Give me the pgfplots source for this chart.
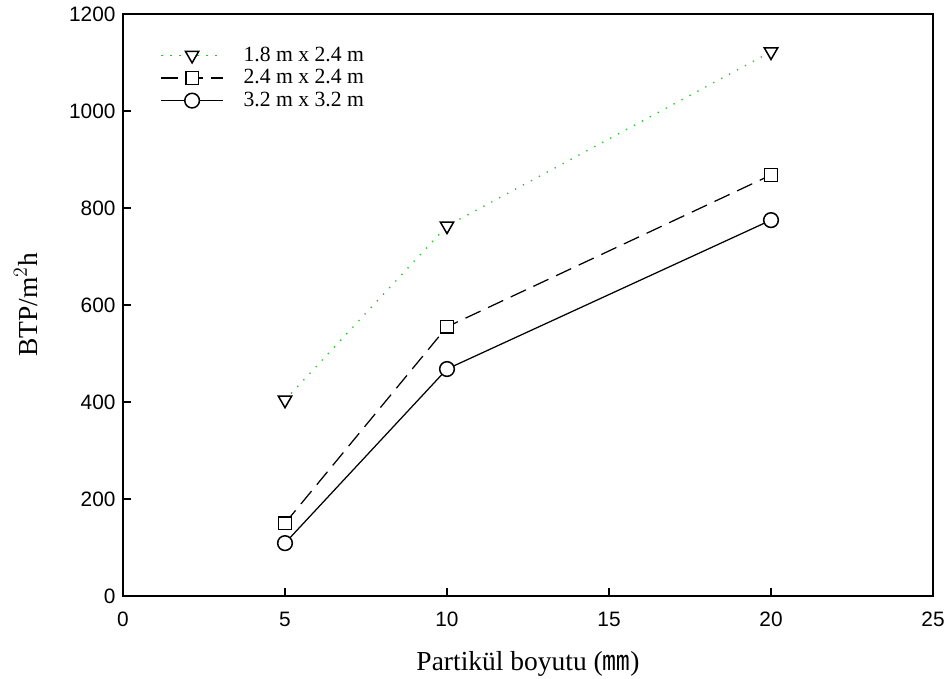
\documentclass[border=0pt]{standalone}
\usepackage{fontspec}
\setmainfont{Liberation Serif}
\newfontfamily\arialf{Liberation Sans}
\newfontfamily\cjk{Noto Sans CJK SC}
\usepackage{pgfplots}
\pgfplotsset{compat=1.18}
\definecolor{dotgreen}{RGB}{30,200,30}
\begin{document}
\begin{tikzpicture}
\begin{axis}[
  name=ax,
  scale only axis,
  width=486pt, height=349.2pt,
  xmin=0, xmax=25, ymin=0, ymax=1200,
  xtick={0,5,...,25}, ytick={0,200,...,1200},
  tick align=inside, major tick length=4.8pt,
  xtick pos=left, ytick pos=left,
  axis line style={line width=0.9pt},
  tick style={line width=0.8pt, black},
  /pgf/number format/assume math mode=true,
  ticklabel style={font=\arialf\fontsize{12.5}{14}\selectfont},
  yticklabel style={/pgf/number format/1000 sep={}, xshift=-1pt},
  xticklabel style={yshift=-6pt},
  xlabel={Partikül boyutu ({\cjk ㎜})},
  ylabel={BTP/m$^{2}$h},
  xlabel style={font=\fontsize{16.5}{18}\selectfont, yshift=-8pt},
  ylabel style={font=\fontsize{16.5}{18}\selectfont, yshift=12pt},
  legend style={draw=none, fill=none, at={(rel axis cs:0.046,0.950)}, anchor=north west,
    font=\fontsize{13}{15}\selectfont, row sep=-0.5pt, inner sep=0pt},
  legend cell align=left,
  legend image code/.code={
    \draw[#1, mark repeat=2, mark phase=2] plot coordinates {(0pt,0pt) (18.5pt,0pt) (37pt,0pt)};
  },
  /tikz/every odd column/.append style={column sep=10pt},
]
\addplot[dotgreen, dash pattern=on 0.8pt off 4.6pt, line width=0.8pt, mark=triangle*, mark size=4.6pt,
  mark options={solid, draw=black, rotate=180, line width=0.9pt, fill=white}]
  coordinates {(5,404) (10,763) (20,1122)};
\addlegendentry{1.8 m x 2.4 m}
\addplot[black, dash pattern=on 10pt off 5pt, line width=0.75pt, mark=square*, mark size=3.8pt,
  mark options={solid, draw=black, line width=0.9pt, fill=white}]
  coordinates {(5,150) (10,555) (20,868)};
\addlegendentry{2.4 m x 2.4 m}
\addplot[black, solid, line width=0.75pt, mark=*, mark size=4.4pt,
  mark options={solid, draw=black, line width=0.9pt, fill=white}]
  coordinates {(5,109) (10,468) (20,775)};
\addlegendentry{3.2 m x 3.2 m}
\end{axis}
\pgfresetboundingbox
\path[use as bounding box] ([shift={(-73.8pt,-49.2pt)}]ax.south west) rectangle ([shift={(496.2pt,357.6pt)}]ax.south west);
\end{tikzpicture}
\end{document}
